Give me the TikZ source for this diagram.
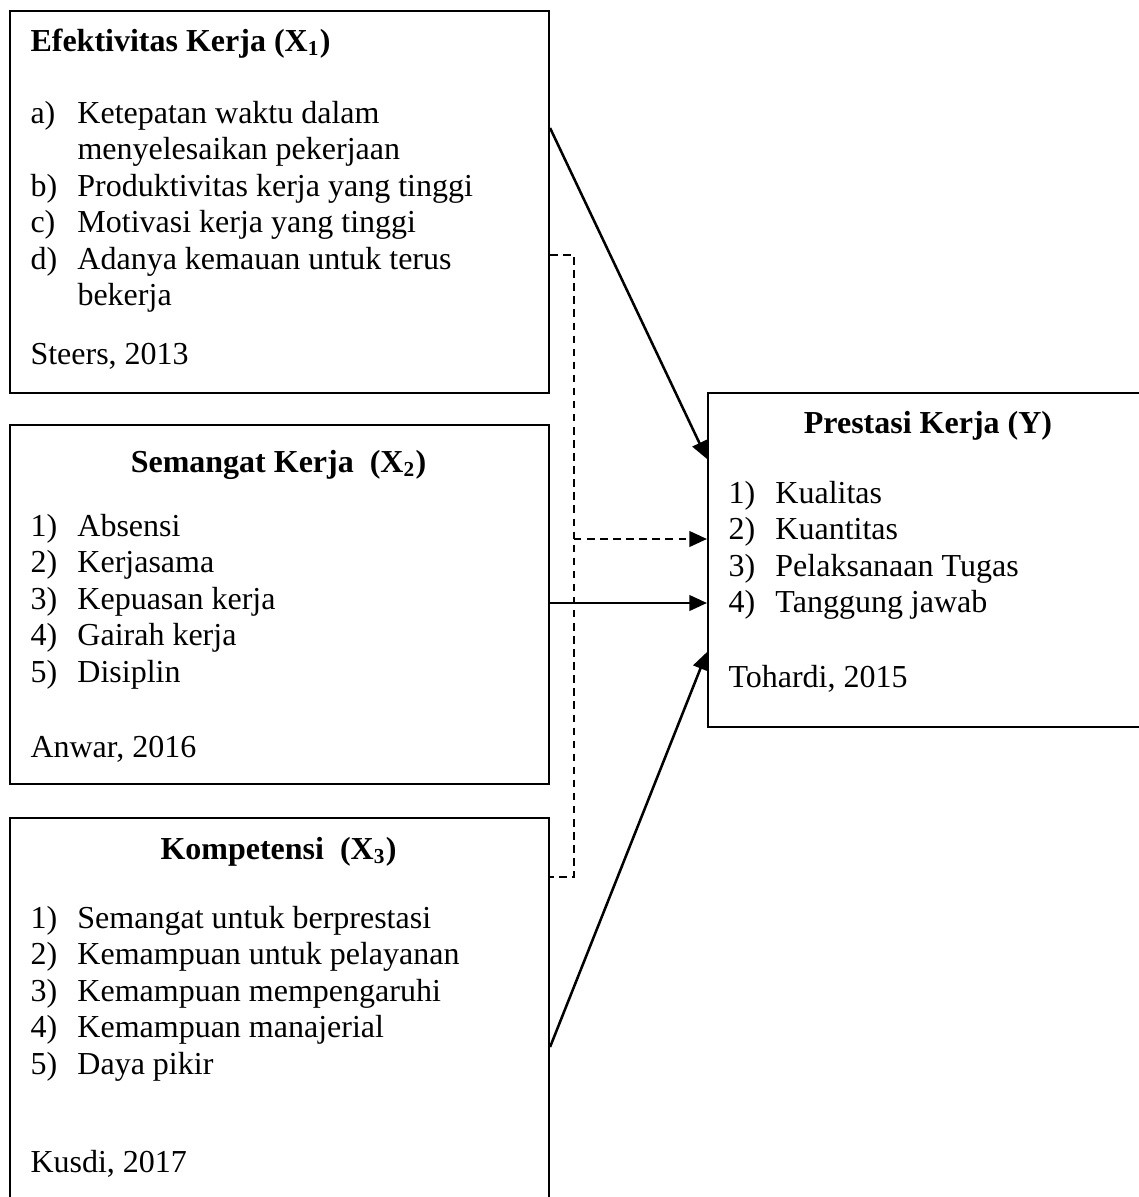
\documentclass[tikz,border=0pt]{standalone}
\usepackage{fontspec}
\setmainfont{Liberation Serif}
\usetikzlibrary{arrows.meta}
\tikzset{font=\fontsize{12pt}{13.8pt}\selectfont}
\tikzset{box/.style={draw,line width=0.8pt,inner sep=0pt,anchor=north west}}
\tikzset{txt/.style={anchor=base west,inner sep=0pt}}
\tikzset{head/.style={inner sep=0pt,font=\fontsize{12pt}{13.8pt}\selectfont\bfseries}}
\tikzset{link/.style={line width=0.95pt,-{Triangle[length=6.6pt,width=5.8pt]}}}
\tikzset{dashline/.style={line width=0.95pt,dash pattern=on 2.8pt off 2.1pt}}
\newcommand{\lbl}[1]{\makebox[17.6pt][l]{#1}}

\begin{document}
\begin{tikzpicture}[x=0.375pt,y=-0.375pt]
  \useasboundingbox (0,0) rectangle (1139,1197);

  % boxes
  \node[box,minimum width=202.1pt,minimum height=143.25pt] (eff) at (9,10) {};
  \node[box,minimum width=202.1pt,minimum height=134.6pt] (sem) at (9,424) {};
  \node[box,minimum width=202.1pt,minimum height=151pt] (komp) at (9,817) {};
  \node[box,minimum width=165.75pt,minimum height=125.25pt] (pres) at (707,392) {};

  % X1
  \node[head,anchor=base west] (efft) at (30,51) {Efektivitas Kerja (X\textsubscript{1})};
  \node[txt] (eff1) at (30,123) {\lbl{a)}Ketepatan waktu dalam};
  \node[txt] (eff1b) at (77,159.5) {menyelesaikan pekerjaan};
  \node[txt] (eff2) at (30,196) {\lbl{b)}Produktivitas kerja yang tinggi};
  \node[txt] (eff3) at (30,232.5) {\lbl{c)}Motivasi kerja yang tinggi};
  \node[txt] (eff4) at (30,269) {\lbl{d)}Adanya kemauan untuk terus};
  \node[txt] (eff4b) at (77,305.5) {bekerja};
  \node[txt] (effr) at (30,364) {Steers, 2013};

  % X2
  \node[head,anchor=base] (semt) at (278.5,472) {Semangat Kerja\ \ (X\textsubscript{2})};
  \foreach \t [count=\i] in {Absensi,Kerjasama,Kepuasan kerja,Gairah kerja,Disiplin}
    \node[txt] (sem\i) at (30,{499.5+36.5*\i}) {\lbl{\i)}\t};
  \node[txt] (semr) at (30,757) {Anwar, 2016};

  % X3
  \node[head,anchor=base] (kompt) at (278.5,859) {Kompetensi\ \ (X\textsubscript{3})};
  \foreach \t [count=\i] in {Semangat untuk berprestasi,Kemampuan untuk pelayanan,
      Kemampuan mempengaruhi,Kemampuan manajerial,Daya pikir}
    \node[txt] (komp\i) at (30,{891.5+36.5*\i}) {\lbl{\i)}\t};
  \node[txt] (kompr) at (30,1172) {Kusdi, 2017};

  % Y
  \node[head,anchor=base] (prest) at (928,433) {Prestasi Kerja (Y)};
  \foreach \t [count=\i] in {Kualitas,Kuantitas,Pelaksanaan Tugas,Tanggung jawab}
    \node[txt] (pres\i) at (728,{466.5+36.5*\i}) {\lbl{\i)}\t};
  \node[txt] (presr) at (728,687) {Tohardi, 2015};

  % connectors
  \coordinate (dtop) at (574,255);
  \coordinate (dbot) at (574,877);
  \draw[link] (eff.east |- 0,128) -- (pres.west |- 0,459);
  \draw[link] (sem.east |- 0,603) -- (pres.west |- 0,603);
  \draw[link] (komp.east |- 0,1047) -- (pres.west |- 0,652);
  \draw[dashline] (eff.east |- dtop) -- (dtop) -- (dbot) -- (komp.east |- dbot);
  \draw[link,dashline] (dtop |- 0,539) -- (pres.west |- 0,539);
\end{tikzpicture}
\end{document}
